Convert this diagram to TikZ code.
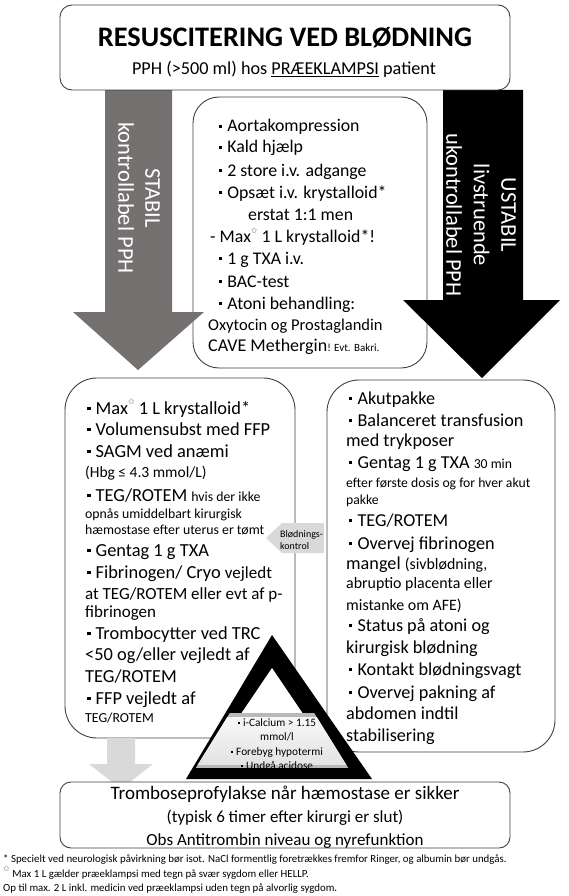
\documentclass[tikz,border=0pt]{standalone}
\usepackage{fontspec}
\setmainfont{Carlito}
\newfontfamily\dejavu{DejaVu Sans}
\definecolor{arrgray}{HTML}{767171}
\definecolor{lgray}{HTML}{D9D9D9}
\definecolor{bord}{HTML}{404040}
\newcommand\fsz[1]{\fontsize{#1}{#1}\selectfont}
\newcommand\bul{\raisebox{0.2em}{\rule{0.18em}{0.18em}}\hspace{0.28em}}
\newcommand\ostar{\raisebox{0.5em}{\dejavu\fontsize{8}{8}\selectfont\color{black!55}✩}}
\begin{document}
\begin{tikzpicture}[x=1pt,y=-1pt,
  box/.style={draw=bord, line width=0.9pt, fill=white},
  L/.style={anchor=base west, inner sep=0pt, font=\fsz{18.4}},
  M/.style={anchor=base west, inner sep=0pt, font=\fsz{17.8}},
  R/.style={anchor=base west, inner sep=0pt, font=\fsz{18.2}},
  S/.style={anchor=base west, inner sep=0pt, font=\fsz{13.8}}]
\path[use as bounding box, fill=white] (0,0) rectangle (568,896);

% middle box
\draw[box, rounded corners=26pt] (193,97) rectangle (427,368);

% big arrows
\fill[arrgray] (105,90) -- (172,90) -- (172,312) -- (204,312) -- (138,370) -- (73,312) -- (105,312) -- cycle;
\fill[black] (443,90) -- (523,90) -- (523,300) -- (560,300) -- (482,378) -- (403,300) -- (443,300) -- cycle;
\node[rotate=-90, align=center, text=white, inner sep=0pt, font=\fontsize{22.5}{27}\selectfont] (lstab) at (139,198) {STABIL\\kontrollabel PPH};
\node[rotate=-90, align=center, text=white, inner sep=0pt, font=\fontsize{22.5}{27.5}\selectfont] (rstab) at (481,215) {USTABIL\\livstruende\\ukontrollabel PPH};

% top box
\draw[box, rounded corners=12pt] (60,5) rectangle (510,90);
\node[anchor=base, inner sep=0pt, font=\fsz{28.3}\bfseries] (title) at (285,47) {RESUSCITERING VED BLØDNING};
\node[anchor=base, inner sep=0pt, font=\fsz{18.2}] (sub) at (284,75) {PPH (>500 ml) hos \underline{PRÆEKLAMPSI} patient};

% middle box text
\node[M] (m1) at (219,132) {\bul Aortakompression};
\node[M] (m2) at (219,153) {\bul Kald hjælp};
\node[M] (m3) at (219,176) {\bul 2 store i.v. adgange};
\node[M] (m4) at (219,198) {\bul Opsæt i.v. krystalloid*};
\node[M] (m5) at (248,220) {erstat 1:1 men};
\node[M] (m6) at (210,242) {- Max\ostar{} 1 L krystalloid*!};
\node[M] (m7) at (219,264) {\bul 1 g TXA i.v.};
\node[M] (m8) at (219,287) {\bul BAC-test};
\node[M] (m9) at (219,309) {\bul Atoni behandling:};
\node[anchor=base west, inner sep=0pt, font=\fsz{16.5}] (m10) at (208,330) {Oxytocin og Prostaglandin};
\node[anchor=base west, inner sep=0pt, font=\fsz{18}] (m11) at (208,351) {CAVE Methergin{\fsz{11}! Evt. Bakri.}};

% left & right boxes
\draw[box, rounded corners=32pt] (65,378) rectangle (295,738);
\draw[box, rounded corners=32pt] (327,380) rectangle (555,752);

% bleeding control arrow
\fill[lgray] (266,538) -- (282,523) -- (324,523) -- (324,553) -- (282,553) -- cycle;
\node[anchor=base west, inner sep=0pt, font=\fsz{10}] (bk1) at (280,537) {Blødnings-};
\node[anchor=base west, inner sep=0pt, font=\fsz{10}] (bk2) at (280,549) {kontrol};

% left box text
\node[L] (l1) at (87,414) {\bul Max\ostar{} 1 L krystalloid*};
\node[L] (l2) at (87,435) {\bul Volumensubst med FFP};
\node[L] (l3) at (87,457) {\bul SAGM ved anæmi};
\node[anchor=base west, inner sep=0pt, font=\fsz{15.5}] (l4) at (85,477) {(Hbg ≤ 4.3 mmol/L)};
\node[L] (l5) at (87,501) {\bul TEG/ROTEM {\fsz{13.8}hvis der ikke}};
\node[S] (l6) at (85,518) {opnås umiddelbart kirurgisk};
\node[S] (l7) at (85,534) {hæmostase efter uterus er tømt};
\node[L] (l8) at (87,556) {\bul Gentag 1 g TXA};
\node[L] (l9) at (87,578) {\bul Fibrinogen/ Cryo {\fsz{17}vejledt}};
\node[anchor=base west, inner sep=0pt, font=\fsz{17}] (l10) at (85,599) {at TEG/ROTEM eller evt af p-};
\node[anchor=base west, inner sep=0pt, font=\fsz{17}] (l11) at (85,617) {fibrinogen};
\node[L] (l12) at (87,639) {\bul Trombocytter ved TRC};
\node[L] (l13) at (85,660) {<50 og/eller vejledt af};
\node[L] (l14) at (85,682) {TEG/ROTEM};
\node[L] (l15) at (87,704) {\bul FFP vejledt af};
\node[S] (l16) at (85,722) {TEG/ROTEM};

% right box text
\node[R] (r1) at (349,404) {\bul Akutpakke};
\node[R] (r2) at (349,426) {\bul Balanceret transfusion};
\node[R] (r3) at (346,446) {med trykposer};
\node[R] (r4) at (349,468) {\bul Gentag 1 g TXA {\fsz{13.7}30 min}};
\node[anchor=base west, inner sep=0pt, font=\fsz{13.7}] (r5) at (346,487.5) {efter første dosis og for hver akut};
\node[anchor=base west, inner sep=0pt, font=\fsz{13.7}] (r6) at (346,504.5) {pakke};
\node[R] (r7) at (349,526) {\bul TEG/ROTEM};
\node[R] (r8) at (349,549) {\bul Overvej fibrinogen};
\node[R] (r9) at (346,569) {mangel {\fsz{15.9}(sivblødning,}};
\node[anchor=base west, inner sep=0pt, font=\fsz{15.9}] (r10) at (346,588.5) {abruptio placenta eller};
\node[anchor=base west, inner sep=0pt, font=\fsz{15.9}] (r11) at (346,610.5) {mistanke om AFE)};
\node[R] (r12) at (349,631) {\bul Status på atoni og};
\node[R] (r13) at (346,653) {kirurgisk blødning};
\node[R] (r14) at (349,675) {\bul Kontakt blødningsvagt};
\node[R] (r15) at (349,698) {\bul Overvej pakning af};
\node[R] (r16) at (346,719) {abdomen indtil};
\node[R] (r17) at (346,741) {stabilisering};

% small down arrow and bottom box
\fill[lgray] (107,738) -- (135,738) -- (135,764) -- (153,764) -- (121,789) -- (89,764) -- (107,764) -- cycle;
\draw[box, rounded corners=11pt] (60,782) rectangle (510,848);
\node[anchor=base, inner sep=0pt, font=\fsz{19}] (b1) at (285,799) {Tromboseprofylakse når hæmostase er sikker};
\node[anchor=base, inner sep=0pt, font=\fsz{17}] (b2) at (285,822) {(typisk 6 timer efter kirurgi er slut)};
\node[anchor=base, inner sep=0pt, font=\fsz{17}] (b3) at (285,845) {Obs Antitrombin niveau og nyrefunktion};

% triangle
\fill[black] (272,635) -- (372,779) -- (186,779) -- cycle;
\fill[white] (272,668) -- (339,767) -- (205,767) -- cycle;
\begin{scope}
  \clip (272,645) -- (352,774) -- (192,774) -- cycle;
  \fill[gray!55] (190,713) rectangle (355,768);
  \shade[top color=gray!6, bottom color=gray!22] (190,717) rectangle (355,764);
\end{scope}
\node[align=center, inner sep=0pt, font=\fontsize{11.3}{14.4}\selectfont] (tri) at (277,745) {\bul i-Calcium > 1.15\\mmol/l\\\bul Forebyg hypotermi\\\bul Undgå acidose};

% footnotes
\node[anchor=base west, inner sep=0pt, font=\fsz{10.85}] (f1) at (3,862) {* Specielt ved neurologisk påvirkning bør isot. NaCl formentlig foretrækkes fremfor Ringer, og albumin bør undgås.};
\node[anchor=base west, inner sep=0pt, font=\fsz{10.85}] (f2) at (3,877) {\ostar{} Max 1 L gælder præeklampsi med tegn på svær sygdom eller HELLP.};
\node[anchor=base west, inner sep=0pt, font=\fsz{10.85}] (f3) at (3,891) {Op til max. 2 L inkl. medicin ved præeklampsi uden tegn på alvorlig sygdom.};
\end{tikzpicture}
\end{document}
